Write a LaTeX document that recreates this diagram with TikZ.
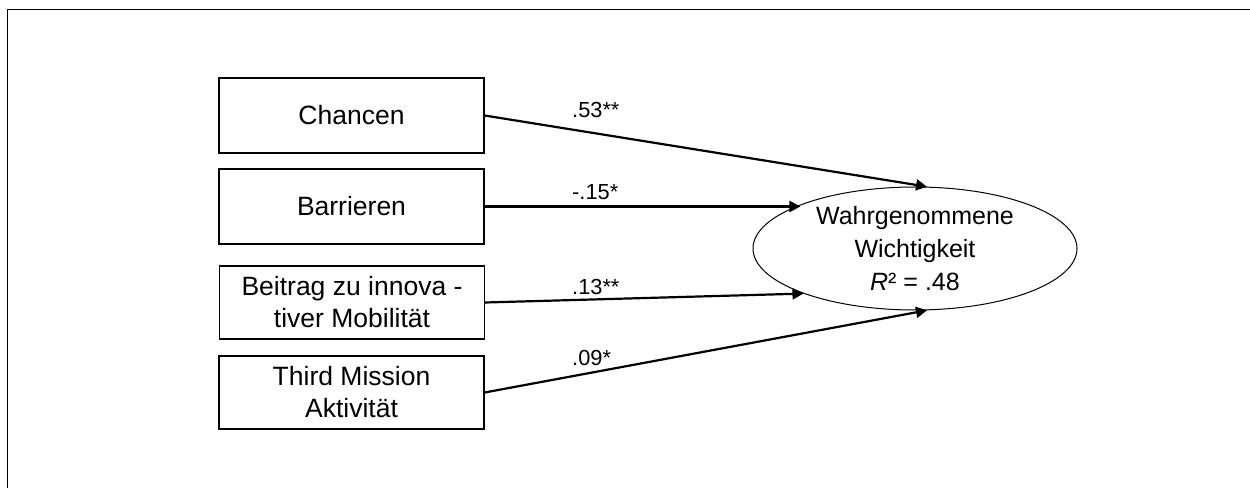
\documentclass[tikz,border=0pt]{standalone}
\usepackage{fontspec}
\setmainfont{Liberation Sans}
\usetikzlibrary{shapes.geometric,arrows.meta}
\begin{document}
\begin{tikzpicture}[x=1bp,y=-1bp,
  box/.style={draw,line width=1.3bp,minimum width=265bp,minimum height=75bp,
    inner sep=0pt,align=center,font=\fontsize{26.5bp}{32bp}\selectfont},
  latent/.style={draw,ellipse,line width=1bp,minimum width=324bp,minimum height=123bp,
    inner sep=0pt,align=center,font=\fontsize{25bp}{33bp}\selectfont},
  path/.style={line width=2.2bp,-{Triangle[length=11bp,width=11bp]}},
  coef/.style={anchor=base west,inner sep=0pt,font=\fontsize{21.8bp}{26bp}\selectfont},
  frame/.style={line width=1.8bp}]
\useasboundingbox (0,0) rectangle (1250,488);
\draw[frame] (7.5,488) -- (7.5,9.5) -- (1250,9.5);

\node[box] (chancen) at (351.5,115.5) {Chancen};
\node[box] (barrieren) at (351.5,206.5) {Barrieren};
\node[box,minimum height=73bp] (beitrag) at (352,302.5) {Beitrag zu innova -\\tiver Mobilität};
\node[box,minimum height=73bp] (third) at (351.5,392.5) {Third Mission\\Aktivität};

\node[latent] (wichtig) at (915,248.5) {Wahrgenommene\\Wichtigkeit\\\textit{R}² = .48};

\draw[path] (chancen.east) -- (wichtig.79);
\draw[path] (barrieren.east) -- (wichtig.159 |- barrieren.east);
\draw[path] (beitrag.east) -- (wichtig.202.5);
\draw[path] (third.east) -- (wichtig.281);

\node[coef] (c1) at (572,118) {.53**};
\node[coef] (c2) at (572,200) {-.15*};
\node[coef] (c3) at (572,295) {.13**};
\node[coef] (c4) at (572,366) {.09*};
\end{tikzpicture}
\end{document}
